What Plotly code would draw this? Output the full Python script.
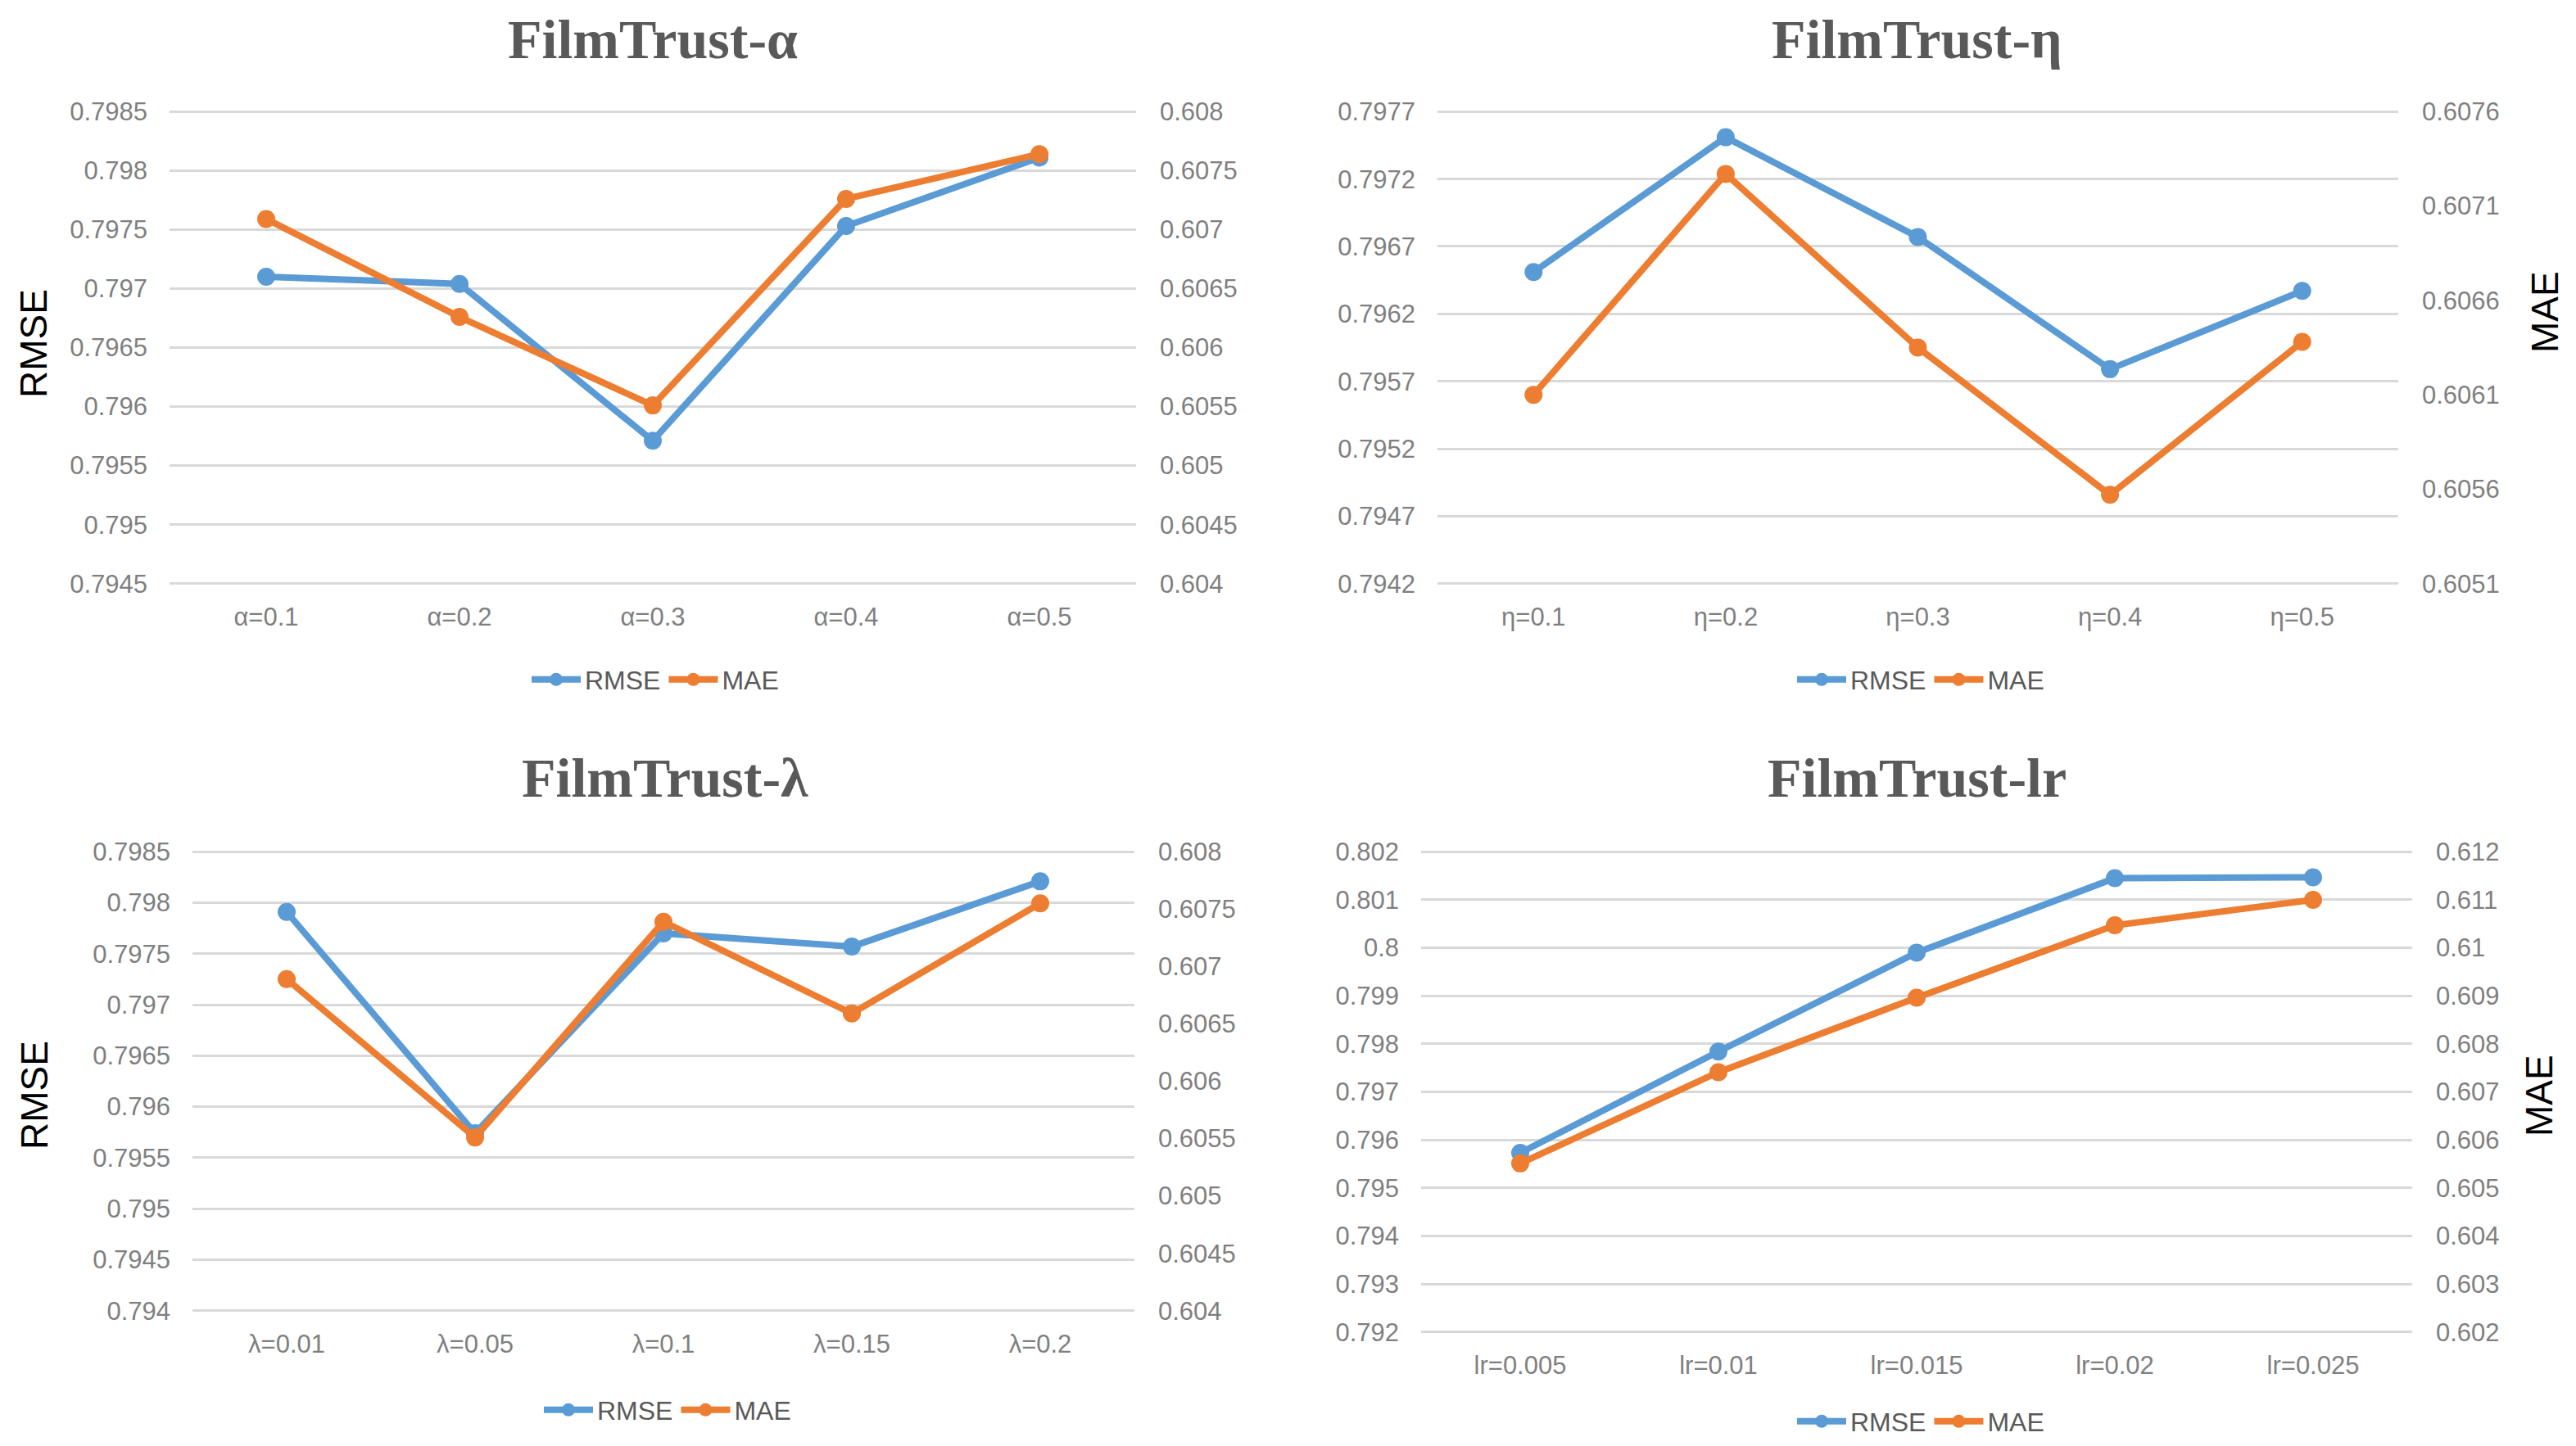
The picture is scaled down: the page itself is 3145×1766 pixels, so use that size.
import plotly.graph_objects as go

W, H = 3145, 1766

# ---------------- data ----------------
alpha_cats = ["α=0.1", "α=0.2", "α=0.3", "α=0.4", "α=0.5"]
alpha_rmse = [0.79710, 0.79704, 0.79571, 0.79753, 0.79811]
alpha_mae = [0.60709, 0.60626, 0.60551, 0.60726, 0.60764]

eta_cats = ["η=0.1", "η=0.2", "η=0.3", "η=0.4", "η=0.5"]
eta_rmse = [0.79651, 0.79751, 0.79677, 0.79579, 0.79637]
eta_mae = [0.60610, 0.60727, 0.60635, 0.60557, 0.60638]

lam_cats = ["λ=0.01", "λ=0.05", "λ=0.1", "λ=0.15", "λ=0.2"]
lam_rmse = [0.79791, 0.79574, 0.79770, 0.79757, 0.79821]
lam_mae = [0.60689, 0.60551, 0.60739, 0.60659, 0.60755]

lr_cats = ["lr=0.005", "lr=0.01", "lr=0.015", "lr=0.02", "lr=0.025"]
lr_rmse = [0.79573, 0.79784, 0.79990, 0.80145, 0.80147]
lr_mae = [0.60551, 0.60741, 0.60896, 0.61047, 0.61100]

titles = ["FilmTrust-α", "FilmTrust-η", "FilmTrust-λ", "FilmTrust-lr"]
series_names = ["RMSE", "MAE"]

# axis ranges (min, max, step)
alpha_left = (0.7945, 0.7985, 0.0005)
alpha_right = (0.604, 0.608, 0.0005)
eta_left = (0.7942, 0.7977, 0.0005)
eta_right = (0.6051, 0.6076, 0.0005)
lam_left = (0.794, 0.7985, 0.0005)
lam_right = (0.604, 0.608, 0.0005)
lr_left = (0.792, 0.802, 0.001)
lr_right = (0.602, 0.612, 0.001)

# ---------------- style ----------------
BLUE = "#5B9BD5"
ORANGE = "#ED7D31"
GRID = "#d9d9d9"
TICK = "#7f7f7f"
FONT = "Liberation Sans, Arial, sans-serif"
SERIF = "Liberation Serif, Times New Roman, serif"

OX, OY = 8, 8  # page offset compensation (pixels)


def px(x):
    return (x - OX) / W


def py(y):
    return 1 - (y - OY) / H


panels = [
    dict(cats=alpha_cats, rmse=alpha_rmse, mae=alpha_mae, left=alpha_left, right=alpha_right,
         xd=[px(207), px(1387)], yd=[py(715), py(134)],
         tx=px(797), ty=1.0, tanchor="top", lx=px(800), ly=py(830),
         atitle=("RMSE", px(41), py(420))),
    dict(cats=eta_cats, rmse=eta_rmse, mae=eta_mae, left=eta_left, right=eta_right,
         xd=[px(1755), px(2928)], yd=[py(715), py(134)],
         tx=px(2340), ty=1.0, tanchor="top", lx=px(2345), ly=py(830),
         atitle=("MAE", px(3107), py(381))),
    dict(cats=lam_cats, rmse=lam_rmse, mae=lam_mae, left=lam_left, right=lam_right,
         xd=[px(235), px(1385)], yd=[py(1603), py(1038)],
         tx=px(812), ty=py(950), tanchor="middle", lx=px(815), ly=py(1722),
         atitle=("RMSE", px(42), py(1338))),
    dict(cats=lr_cats, rmse=lr_rmse, mae=lr_mae, left=lr_left, right=lr_right,
         xd=[px(1735), px(2945)], yd=[py(1629), py(1038)],
         tx=px(2340), ty=py(950), tanchor="middle", lx=px(2345), ly=py(1736),
         atitle=("MAE", px(3100), py(1338))),
]

fig = go.Figure()
layout = {}
annotations = []

for i, p in enumerate(panels):
    xname = "x" if i == 0 else f"x{i + 1}"
    yl = 2 * i + 1
    yr = 2 * i + 2
    ylname = "y" if yl == 1 else f"y{yl}"
    yrname = f"y{yr}"
    legname = "legend" if i == 0 else f"legend{i + 1}"

    fig.add_trace(go.Scatter(
        x=p["cats"], y=p["rmse"], name=series_names[0], mode="lines+markers",
        line=dict(color=BLUE, width=8), marker=dict(color=BLUE, size=22),
        xaxis=xname, yaxis=ylname, legend=legname))
    fig.add_trace(go.Scatter(
        x=p["cats"], y=p["mae"], name=series_names[1], mode="lines+markers",
        line=dict(color=ORANGE, width=8), marker=dict(color=ORANGE, size=22),
        xaxis=xname, yaxis=yrname, legend=legname))

    xkey = "xaxis" if i == 0 else f"xaxis{i + 1}"
    ylkey = "yaxis" if yl == 1 else f"yaxis{yl}"
    yrkey = f"yaxis{yr}"

    layout[xkey] = dict(
        domain=p["xd"], anchor=ylname, type="category", range=[-0.5, 4.5],
        showgrid=False, zeroline=False, showline=False, ticks="",
        tickfont=dict(family=FONT, size=31, color=TICK), ticklabelstandoff=17,
        fixedrange=True)
    lo, hi, st = p["left"]
    pad = (hi - lo) * 0.004
    layout[ylkey] = dict(
        domain=p["yd"], anchor=xname, range=[lo - pad, hi + pad], tick0=lo, dtick=st,
        showgrid=True, gridcolor=GRID, gridwidth=3, zeroline=False, showline=False,
        ticks="", tickfont=dict(family=FONT, size=31, color=TICK), ticklabelstandoff=26)
    lo2, hi2, st2 = p["right"]
    pad2 = (hi2 - lo2) * 0.004
    layout[yrkey] = dict(
        overlaying=ylname, anchor=xname, side="right", range=[lo2 - pad2, hi2 + pad2],
        tick0=lo2, dtick=st2,
        showgrid=False, zeroline=False, showline=False,
        ticks="", tickfont=dict(family=FONT, size=31, color=TICK), ticklabelstandoff=28)

    layout[legname] = dict(
        orientation="h", x=p["lx"], y=p["ly"], xanchor="center", yanchor="middle",
        font=dict(family=FONT, size=32, color="#595959"), bgcolor="rgba(0,0,0,0)",
        itemwidth=60, tracegroupgap=0)

    annotations.append(dict(
        text=f"<b>{titles[i]}</b>", x=p["tx"], y=p["ty"], xref="paper", yref="paper",
        xanchor="center", yanchor=p["tanchor"], showarrow=False,
        font=dict(family=SERIF, size=68, color="#595959")))
    t, ax_x, ax_y = p["atitle"]
    annotations.append(dict(
        text=t, x=ax_x, y=ax_y, xref="paper", yref="paper", textangle=-90,
        xanchor="center", yanchor="middle", showarrow=False,
        font=dict(family=FONT, size=46, color="#000000")))

fig.update_layout(
    width=W, height=H, margin=dict(l=0, r=0, t=0, b=0, autoexpand=False),
    paper_bgcolor="white", plot_bgcolor="white",
    annotations=annotations, **layout)

fig.write_html("out.html", config={"displayModeBar": False})
